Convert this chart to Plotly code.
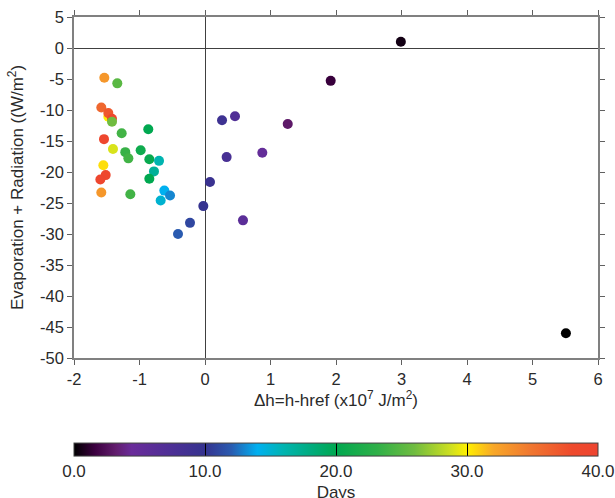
import plotly.graph_objects as go

# Heat-content anomaly (x10^7 J/m^2), surface flux (W/m^2) and day index
dh = [-1.537, -1.339, -1.583, -1.476, -1.476, -1.42, -1.42, -1.272, -0.866,
      -1.542, -1.405, -1.217, -1.17, -0.982, -0.85, -0.702, -0.779, -1.552,
      -1.516, -1.598, -0.85, -0.621, -0.534, -1.583, -1.14, -0.677, -0.026,
      -0.229, -0.412, 0.076, 0.58, 0.33, 1.919, 0.26, 0.458, 1.263, 0.875,
      2.99, 5.51]
flux = [-4.8, -5.7, -9.6, -11.1, -10.5, -11.4, -11.9, -13.75, -13.1,
        -14.7, -16.3, -16.8, -17.8, -16.5, -17.95, -18.2, -19.9, -18.9,
        -20.5, -21.2, -21.1, -23.0, -23.8, -23.3, -23.6, -24.6, -25.5,
        -28.2, -30.0, -21.6, -27.8, -17.6, -5.3, -11.65, -11.0, -12.25, -16.9,
        1.0, -46.0]
days = [33, 25, 36, 30, 37, 39, 26, 24, 20,
        39, 29, 23.5, 24, 21, 20.5, 16, 17, 30.5,
        39, 39.5, 20, 14, 13, 33, 24, 15, 10,
        11, 12, 9.5, 6, 8, 1.5, 9, 7, 3, 5,
        0.5, 0]

x_ticks = [-2, -1, 0, 1, 2, 3, 4, 5, 6]
x_tick_text = ["-2", "-1", "0", "1", "2", "3", "4", "5", "6"]
y_ticks = [5, 0, -5, -10, -15, -20, -25, -30, -35, -40, -45, -50]
y_tick_text = ["5", "0", "-5", "-10", "-15", "-20", "-25", "-30", "-35",
               "-40", "-45", "-50"]
cbar_ticks = [0, 10, 20, 30, 40]

day_scale = [
    [0.00, "#000000"],
    [0.04, "#3c0040"],
    [0.08, "#621d6e"],
    [0.11, "#6a2c9a"],
    [0.18, "#4f2f96"],
    [0.25, "#35338f"],
    [0.30, "#2a5bb0"],
    [0.35, "#00b0f0"],
    [0.40, "#00b4b0"],
    [0.45, "#00ac80"],
    [0.50, "#00a850"],
    [0.58, "#30b048"],
    [0.65, "#70bc40"],
    [0.72, "#d0e020"],
    [0.75, "#fff000"],
    [0.80, "#f8a828"],
    [0.87, "#f07830"],
    [0.95, "#ee4a2c"],
    [1.00, "#ee4430"],
]

font_family = "Liberation Sans, Arial, sans-serif"
text_color = "#2a2a2a"

fig = go.Figure(go.Scatter(
    x=dh, y=flux, mode="markers",
    marker=dict(
        size=10, color=days, colorscale=day_scale, cmin=0, cmax=40,
        line=dict(width=0),
        colorbar=dict(
            orientation="h", x=0.5, xanchor="center", y=-0.338, yanchor="middle",
            len=1.0, lenmode="fraction", thickness=13, xpad=0, ypad=0,
            outlinecolor="#404040", outlinewidth=1,
            tickvals=cbar_ticks, tickformat=".1f",
            ticks="inside", ticklen=13, tickcolor="#000000", tickwidth=1,
            tickfont=dict(size=17, color=text_color, family=font_family),
            title=dict(text="Days", side="bottom",
                       font=dict(size=17, color=text_color, family=font_family)),
        ),
    ),
    showlegend=False,
))

axis_common = dict(
    showgrid=False, showline=True, linecolor="#808080", linewidth=1.5,
    mirror="ticks", ticks="outside", ticklen=5, tickcolor="#606060", tickwidth=1,
    zeroline=True, zerolinecolor="#404040", zerolinewidth=1,
    tickfont=dict(size=16.5, color=text_color, family=font_family),
)

fig.update_xaxes(
    range=[-2, 6], tickvals=x_ticks, ticktext=x_tick_text,
    title=dict(text="Δh=h-href (x10<sup>7</sup> J/m<sup>2</sup>)", standoff=6,
               font=dict(size=17, color=text_color, family=font_family)),
    **axis_common,
)
fig.update_yaxes(
    range=[-50, 5], tickvals=y_ticks, ticktext=y_tick_text,
    title=dict(text="Evaporation + Radiation ((W/m<sup>2</sup>)", standoff=12,
               font=dict(size=17, color=text_color, family=font_family)),
    **axis_common,
)

fig.update_layout(
    width=615, height=498,
    margin=dict(l=74, r=17, t=17, b=140, autoexpand=False),
    paper_bgcolor="white", plot_bgcolor="white",
    font=dict(family=font_family),
)

fig.write_html("out.html")
